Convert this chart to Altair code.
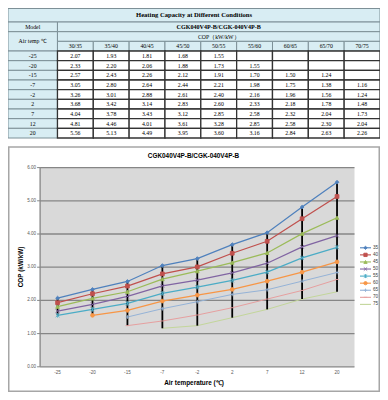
import altair as alt
import pandas as pd

# ---------------- data ----------------
temps = ["-25", "-20", "-15", "-7", "-2", "2", "7", "12", "20"]
conds = ["30/35", "35/40", "40/45", "45/50", "50/55", "55/60", "60/65", "65/70", "70/75"]
legend_names = ["35", "40", "45", "50", "55", "60", "65", "70", "75"]

cop_30_35 = [2.07, 2.33, 2.57, 3.05, 3.26, 3.68, 4.04, 4.81, 5.56]
cop_35_40 = [1.93, 2.20, 2.43, 2.80, 3.01, 3.42, 3.78, 4.46, 5.13]
cop_40_45 = [1.81, 2.06, 2.26, 2.64, 2.88, 3.14, 3.43, 4.01, 4.49]
cop_45_50 = [1.68, 1.88, 2.12, 2.44, 2.61, 2.83, 3.12, 3.61, 3.95]
cop_50_55 = [1.55, 1.73, 1.91, 2.21, 2.40, 2.60, 2.85, 3.28, 3.60]
cop_55_60 = [None, 1.55, 1.70, 1.98, 2.16, 2.33, 2.58, 2.85, 3.16]
cop_60_65 = [None, None, 1.50, 1.75, 1.96, 2.18, 2.32, 2.58, 2.84]
cop_65_70 = [None, None, 1.24, 1.38, 1.56, 1.78, 2.04, 2.30, 2.63]
cop_70_75 = [None, None, None, 1.16, 1.24, 1.48, 1.73, 2.04, 2.26]
series_values = [cop_30_35, cop_35_40, cop_40_45, cop_45_50, cop_50_55,
                 cop_55_60, cop_60_65, cop_65_70, cop_70_75]

table_title = "Heating Capacity at Different Conditions"
model_name = "CGK040V4P-B/CGK-040V4P-B"
y_ticks = [0, 1, 2, 3, 4, 5, 6]

colors = ["#4F81BD", "#C0504D", "#9BBB59", "#8064A2", "#4BACC6",
          "#F79646", "#95B3D7", "#E6A0A0", "#C3D69B"]
shapes = ["diamond", "square", "triangle-up",
          "M-1,-1L1,1M-1,1L1,-1",
          "M-1,-1L1,1M-1,1L1,-1M0,-1.2L0,1.2",
          "circle",
          "M-1,0L1,0M0,-1L0,1",
          "M-1,0L1,0"]

W, H = 372, 384
SERIF = "Liberation Serif"
SANS = "Liberation Sans"

# ---------------- table ----------------
W0 = 1.38
NC = len(conds)
cells = []


def add(x0, x1, y0, y1, text, kind):
    cells.append(dict(x0=x0, x1=x1, y0=y0, y1=y1, xm=(x0 + x1) / 2, ym=(y0 + y1) / 2,
                      text=text, kind=kind,
                      fill="#ffffff" if kind == "data" else "#d8edf3",
                      stroke="#333333" if kind == "data" else "#7d9097",
                      sw=1.3 if kind == "data" else 1.0))


add(0, W0 + NC, 0, 1.4, table_title, "title")
add(0, W0, 1.4, 2.4, "Model", "head")
add(W0, W0 + NC, 1.4, 2.4, model_name, "bold")
add(0, W0, 2.4, 4.4, "Air temp ℃", "head")
add(W0, W0 + NC, 2.4, 3.4, "COP（kW/kW）", "head")
for j, c in enumerate(conds):
    add(W0 + j, W0 + j + 1, 3.4, 4.4, c, "head")
for i, t in enumerate(temps):
    add(0, W0, 4.4 + i, 5.4 + i, t, "head")
for i, t in enumerate(temps):
    for j, c in enumerate(conds):
        v = series_values[j][i]
        add(W0 + j, W0 + j + 1, 4.4 + i, 5.4 + i, "" if v is None else f"{v:.2f}", "data")
cells_df = pd.DataFrame(cells)

TX = alt.Scale(domain=[0, W0 + NC], range=[0, W], nice=False, zero=False)
TY = alt.Scale(domain=[0, 13.4], range=[0.5, 130], nice=False, zero=False)

tbase = alt.Chart(cells_df)
t_rect = tbase.mark_rect().encode(
    x=alt.X("x0:Q", scale=TX, axis=None), x2="x1:Q",
    y=alt.Y("y0:Q", scale=TY, axis=None), y2="y1:Q",
    fill=alt.Fill("fill:N", scale=None),
    stroke=alt.Stroke("stroke:N", scale=None),
    strokeWidth=alt.StrokeWidth("sw:Q", scale=None),
)


def ttext(kinds, size, weight):
    return tbase.transform_filter(
        alt.FieldOneOfPredicate(field="kind", oneOf=kinds)
    ).mark_text(font=SERIF, fontSize=size, fontWeight=weight, color="#000000",
                baseline="middle", align="center").encode(
        x=alt.X("xm:Q", scale=TX, axis=None),
        y=alt.Y("ym:Q", scale=TY, axis=None),
        text="text:N",
    )


table = alt.layer(
    t_rect,
    ttext(["title"], 6.6, "bold"),
    ttext(["bold"], 6.1, "bold"),
    ttext(["head", "data"], 5.8, "normal"),
)

# ---------------- line chart ----------------
rows = []
for k, vals in enumerate(series_values):
    for i, v in enumerate(vals):
        if v is not None:
            rows.append(dict(series=legend_names[k], cond=conds[k], xi=i, temp=temps[i], cop=v))
df = pd.DataFrame(rows)
ticks_df = pd.DataFrame({"v": y_ticks, "label": [f"{v:.2f}" for v in y_ticks]})
xlab_df = pd.DataFrame({"xi": list(range(len(temps))), "temp": temps})

PX0, PX1 = 32.1, 346.5
PY0, PY1 = 159.6, 358.8
XS = alt.Scale(domain=[-0.5, len(temps) - 0.5], range=[PX0, PX1], nice=False, zero=False)
YS = alt.Scale(domain=[0, 6], range=[PY1, PY0], nice=False, zero=False)
CS = alt.Scale(domain=legend_names, range=colors)
SS = alt.Scale(domain=legend_names[:8], range=shapes)

one = alt.Data(values=[{"a": 1}])

plot_bg = alt.Chart(one).mark_rect(fill="#d9d9d9").encode(
    x=alt.value(PX0), x2=alt.value(PX1), y=alt.value(PY0), y2=alt.value(PY1))

grid = alt.Chart(ticks_df).mark_rule(color="#868686", strokeWidth=1.3).encode(
    y=alt.Y("v:Q", scale=YS, axis=None), x=alt.value(PX0), x2=alt.value(PX1))

yticks = alt.Chart(ticks_df).mark_rule(color="#868686", strokeWidth=1).encode(
    y=alt.Y("v:Q", scale=YS, axis=None), x=alt.value(PX0 - 3), x2=alt.value(PX0))

yaxis = alt.Chart(one).mark_rule(color="#868686", strokeWidth=1.3).encode(
    x=alt.value(PX0), y=alt.value(PY0), y2=alt.value(PY1))

ylabels = alt.Chart(ticks_df).mark_text(font=SANS, fontSize=4.6, color="#595959",
                                        align="right", baseline="middle").encode(
    y=alt.Y("v:Q", scale=YS, axis=None), x=alt.value(PX0 - 4), text="label:N")

xlabels = alt.Chart(xlab_df).mark_text(font=SANS, fontSize=4.6, color="#595959",
                                       align="center", baseline="middle").encode(
    x=alt.X("xi:Q", scale=XS, axis=None), y=alt.value(PY1 + 6), text="temp:N")

hilo = alt.Chart(df).mark_rule(color="#000000", strokeWidth=1.8).encode(
    x=alt.X("xi:Q", scale=XS, axis=None),
    y=alt.Y("max(cop):Q", scale=YS, axis=None), y2="min(cop):Q")

lines_main = alt.Chart(df).transform_filter(
    alt.FieldOneOfPredicate(field="series", oneOf=legend_names[:6])
).mark_line(strokeWidth=1.25).encode(
    x=alt.X("xi:Q", scale=XS, axis=None), y=alt.Y("cop:Q", scale=YS, axis=None),
    color=alt.Color("series:N", scale=CS, legend=None))

lines_light = alt.Chart(df).transform_filter(
    alt.FieldOneOfPredicate(field="series", oneOf=legend_names[6:])
).mark_line(strokeWidth=1.0).encode(
    x=alt.X("xi:Q", scale=XS, axis=None), y=alt.Y("cop:Q", scale=YS, axis=None),
    color=alt.Color("series:N", scale=CS, legend=None))

points = alt.Chart(df).transform_filter(
    alt.FieldOneOfPredicate(field="series", oneOf=legend_names[:8])
).mark_point(filled=True, size=14, strokeWidth=0.9, opacity=1).encode(
    x=alt.X("xi:Q", scale=XS, axis=None), y=alt.Y("cop:Q", scale=YS, axis=None),
    color=alt.Color("series:N", scale=CS, legend=None),
    stroke=alt.Stroke("series:N", scale=CS, legend=None),
    shape=alt.Shape("series:N", scale=SS, legend=None))

plot = alt.layer(plot_bg, grid, yticks, yaxis, ylabels, xlabels,
                 lines_main, lines_light, hilo, points)

# ---------------- legend ----------------
leg_df = pd.DataFrame({"series": legend_names, "idx": list(range(len(legend_names)))})
LY = alt.Scale(domain=[0, len(legend_names) - 1], range=[239.8, 296.4], nice=False, zero=False)
leg_lines = alt.Chart(leg_df).mark_rule(strokeWidth=1.1).encode(
    y=alt.Y("idx:Q", scale=LY, axis=None), x=alt.value(352), x2=alt.value(363),
    color=alt.Color("series:N", scale=CS, legend=None))
leg_pts = alt.Chart(leg_df).transform_filter(
    alt.FieldOneOfPredicate(field="series", oneOf=legend_names[:8])
).mark_point(filled=True, size=11, strokeWidth=0.9, opacity=1).encode(
    y=alt.Y("idx:Q", scale=LY, axis=None), x=alt.value(357.5),
    color=alt.Color("series:N", scale=CS, legend=None),
    stroke=alt.Stroke("series:N", scale=CS, legend=None),
    shape=alt.Shape("series:N", scale=SS, legend=None))
leg_txt = alt.Chart(leg_df).mark_text(font=SANS, fontSize=4.6, color="#404040",
                                      align="left", baseline="middle").encode(
    y=alt.Y("idx:Q", scale=LY, axis=None), x=alt.value(365), text="series:N")
legend = alt.layer(leg_lines, leg_pts, leg_txt)

# ---------------- panel & titles ----------------
panel = alt.Chart(one).mark_rect(fill="#ffffff", stroke="#a6a6a6", strokeWidth=1.5).encode(
    x=alt.value(0.75), x2=alt.value(W - 0.75), y=alt.value(139), y2=alt.value(H - 0.75))
chart_title = alt.Chart(one).mark_text(font=SANS, fontSize=6.4, fontWeight="bold",
                                       color="#000000", align="center", baseline="middle").encode(
    x=alt.value(185.5), y=alt.value(147.5), text=alt.value(model_name))
x_title = alt.Chart(one).mark_text(font=SANS, fontSize=6.4, fontWeight="bold",
                                   color="#000000", align="center", baseline="middle").encode(
    x=alt.value(186), y=alt.value(374.5), text=alt.value("Air temperature  (℃)"))
y_title = alt.Chart(one).mark_text(font=SANS, fontSize=6.4, fontWeight="bold", angle=270,
                                   color="#000000", align="center", baseline="middle").encode(
    x=alt.value(12.6), y=alt.value(259), text=alt.value("COP (kW/kW)"))

chart = alt.layer(
    panel, table, plot, legend, chart_title, x_title, y_title
).resolve_scale(
    x="independent", y="independent", color="independent",
    stroke="independent", shape="independent"
).properties(
    width=W, height=H, autosize=alt.AutoSizeParams(type="none"), padding=0
).configure_view(strokeWidth=0)

chart.save("out.html", embed_options={"renderer": "svg", "actions": False})
